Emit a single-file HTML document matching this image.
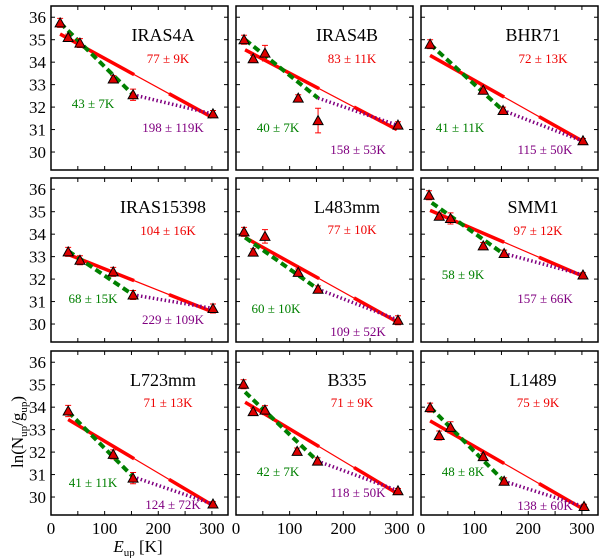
<!DOCTYPE html>
<html><head><meta charset="utf-8"><style>
body{margin:0;background:#fff}
svg{display:block;font-family:"Liberation Serif",serif}
</style></head><body>
<svg id="c" width="600" height="558"></svg>
<script>
const names=["IRAS4A","IRAS4B","BHR71","IRAS15398","L483mm","SMM1","L723mm","B335","L1489"];
const ptE=[[17,32,54,116,153,302],[15,32,54,116,153,302],[17,116,153,302],[32,54,116,153,302],[15,32,54,116,153,302],[15,34,55,116,155,302],[32,116,153,302],[14,32,54,114,152,302],[17,34,55,116,155,304]];
const ptY=[[35.75,35.1,34.85,33.25,32.55,31.7],[35.0,34.15,34.4,32.4,31.4,31.2],[34.8,32.75,31.85,30.5],[33.21,32.84,32.32,31.29,30.69],[34.1,33.2,33.9,32.3,31.55,30.17],[35.73,34.8,34.7,33.48,33.14,32.18],[33.83,31.9,30.84,29.69],[35.02,33.8,33.87,32.03,31.6,30.28],[33.98,32.74,33.1,31.8,30.7,29.58]];
const ptErr=[[0.2,0.15,0.2,0.15,0.25,0.15],[0.2,0.15,0.35,0.15,0.55,0.15],[0.2,0.15,0.15,0.1],[0.2,0.2,0.2,0.2,0.2],[0.2,0.15,0.3,0.15,0.15,0.2],[0.2,0.15,0.25,0.15,0.15,0.1],[0.25,0.2,0.25,0.1],[0.2,0.15,0.2,0.15,0.15,0.1],[0.2,0.2,0.25,0.15,0.15,0.1]];
const redFit=[[17,35.25,300,31.55],[17,34.55,300,31.0],[17,34.3,300,30.5],[32,33.1,300,30.55],[17,33.85,300,30.1],[17,35.06,300,32.15],[32,33.45,300,29.65],[17,34.22,300,30.17],[17,33.39,300,29.5]];
const greenFit=[[17,35.75,153,32.55],[17,35.0,153,32.4],[17,34.8,153,31.85],[32,33.25,153,31.3],[17,33.85,153,31.55],[20,35.4,155,33.1],[32,33.8,153,30.9],[17,34.67,152,31.6],[17,34.0,155,30.7]];
const purpleFit=[[153,32.55,300,31.7],[153,32.4,300,31.2],[153,31.85,300,30.5],[153,31.3,300,30.7],[153,31.55,300,30.2],[155,33.14,300,32.2],[153,30.9,300,29.7],[152,31.6,300,30.3],[155,30.7,300,29.6]];
const redLbl=["77 ± 9K","83 ± 11K","72 ± 13K","104 ± 16K","77 ± 10K","97 ± 12K","71 ± 13K","71 ± 9K","75 ± 9K"];
const greenLbl=["43 ± 7K","40 ± 7K","41 ± 11K","68 ± 15K","60 ± 10K","58 ± 9K","41 ± 11K","42 ± 7K","48 ± 8K"];
const purpleLbl=["198 ± 119K","158 ± 53K","115 ± 50K","229 ± 109K","109 ± 52K","157 ± 66K","124 ± 72K","118 ± 50K","138 ± 60K"];
const xTicks=[0,100,200,300];
const yTicks=[30,31,32,33,34,35,36];
// label placement (panel-relative px)
const lp=[[112,35,117,57,42,102,122,126],[111,35,116,57,42,126,122,148],[112,35,122,57,39,126,124,148],[112,35,117,57,42,125,122,146],[111,35,116,56,40,135,122,158],[112,35,117,57,42,101,124,125],[112,35,117,56,42,136,122,158],[111,35,116,56,42,125,122,146],[112,35,117,56,42,125,124,159]];
const NS="http://www.w3.org/2000/svg";
const svg=document.getElementById('c');
function mk(tag,at,parent){const e=document.createElementNS(NS,tag);for(const k in at)e.setAttribute(k,at[k]);(parent||svg).appendChild(e);return e;}
const colL=[51,236,421],rowT=[6,178,351],W=177,H=164,XMAX=330,YMIN=29.2,YMAX=36.5;
for(let p=0;p<9;p++){
  const L=colL[p%3],T=rowT[Math.floor(p/3)];
  const X=v=>L+v/XMAX*W, Y=v=>T+(YMAX-v)/(YMAX-YMIN)*H;
  const g=mk('g',{});
  
  
  for(let t=0;t<=300;t+=50){mk('line',{x1:X(t),x2:X(t),y1:T,y2:T+4,stroke:'#000'},g);mk('line',{x1:X(t),x2:X(t),y1:T+H,y2:T+H-4,stroke:'#000'},g);}
  yTicks.forEach(t=>{mk('line',{x1:L,x2:L+4,y1:Y(t),y2:Y(t),stroke:'#000'},g);mk('line',{x1:L+W,x2:L+W-4,y1:Y(t),y2:Y(t),stroke:'#000'},g);});
  const r=redFit[p];
  const ry=e=>r[1]+(r[3]-r[1])*(e-r[0])/(r[2]-r[0]);
  const rl=mk('line',{x1:X(r[0]),y1:Y(r[1]),x2:X(r[2]),y2:Y(r[3]),stroke:'#f00','stroke-width':1.2},g);
  
  mk('line',{x1:X(r[0]),y1:Y(r[1]),x2:X(155),y2:Y(ry(155)),stroke:'#f00','stroke-width':3.5},g);
  mk('line',{x1:X(220),y1:Y(ry(220)),x2:X(r[2]),y2:Y(r[3]),stroke:'#f00','stroke-width':3.5},g);
  const gf=greenFit[p];
  const gl=mk('line',{x1:X(gf[0]),y1:Y(gf[1]),x2:X(gf[2]),y2:Y(gf[3]),stroke:'#008000','stroke-width':4,'stroke-dasharray':'7,4'},g);
  
  const pf=purpleFit[p];
  const pl=mk('line',{x1:X(pf[0]),y1:Y(pf[1]),x2:X(pf[2]),y2:Y(pf[3]),stroke:'#800080','stroke-width':3.5,'stroke-dasharray':'1.5,2.5'},g);
  
  ptE[p].forEach((e,i)=>{
    const cx=X(e),cy=Y(ptY[p][i]),y1=Y(ptY[p][i]+ptErr[p][i]),y2=Y(ptY[p][i]-ptErr[p][i]);
    mk('path',{d:`M${cx} ${y1}V${y2}M${cx-3} ${y1}H${cx+3}M${cx-3} ${y2}H${cx+3}`,stroke:'#f00','stroke-width':1,fill:'none'},g);
    const m=mk('path',{d:`M${cx} ${cy-5}L${cx+5} ${cy+4}L${cx-5} ${cy+4}Z`,fill:'#d00',stroke:'#000','stroke-width':1},g);
    
  });
  mk('rect',{x:L,y:T,width:W,height:H,fill:'none',stroke:'#000','stroke-width':1.5},g);
  const q=lp[p];
  const t1=mk('text',{x:L+q[0],y:T+q[1],'text-anchor':'middle','font-size':18},g);t1.textContent=names[p];
  
  const t2=mk('text',{x:L+q[2],y:T+q[3],'text-anchor':'middle','font-size':13,fill:'#e00'},g);t2.textContent=redLbl[p];
  
  const t3=mk('text',{x:L+q[4],y:T+q[5],'text-anchor':'middle','font-size':13,fill:'#008000'},g);t3.textContent=greenLbl[p];
  
  const t4=mk('text',{x:L+q[6],y:T+q[7],'text-anchor':'middle','font-size':13,fill:'#800080'},g);t4.textContent=purpleLbl[p];
  
  if(p%3===0){yTicks.forEach(t=>{const tx=mk('text',{x:L-5,y:Y(t)+6,'text-anchor':'end','font-size':17},g);tx.textContent=t;});}
  if(p>=6){xTicks.forEach(t=>{const tx=mk('text',{x:X(t),y:T+H+19,'text-anchor':'middle','font-size':17},g);tx.textContent=t;});}
}
</script>
<svg width="0" height="0"></svg>
<div style="position:absolute;left:0;top:0;width:600px;height:558px;pointer-events:none">
<svg width="600" height="558" style="position:absolute;left:0;top:0">
<text transform="translate(23,432) rotate(-90)" text-anchor="middle" font-family="Liberation Serif, serif" font-size="17">ln(N<tspan font-size="11" dy="4">up</tspan><tspan dy="-4">/g</tspan><tspan font-size="11" dy="4">up</tspan><tspan dy="-4">)</tspan></text>
<text x="138" y="552" text-anchor="middle" font-family="Liberation Serif, serif" font-size="17"><tspan font-style="italic">E</tspan><tspan font-size="11" dy="4">up</tspan><tspan dy="-4"> [K]</tspan></text>
</svg></div>
</body></html>
